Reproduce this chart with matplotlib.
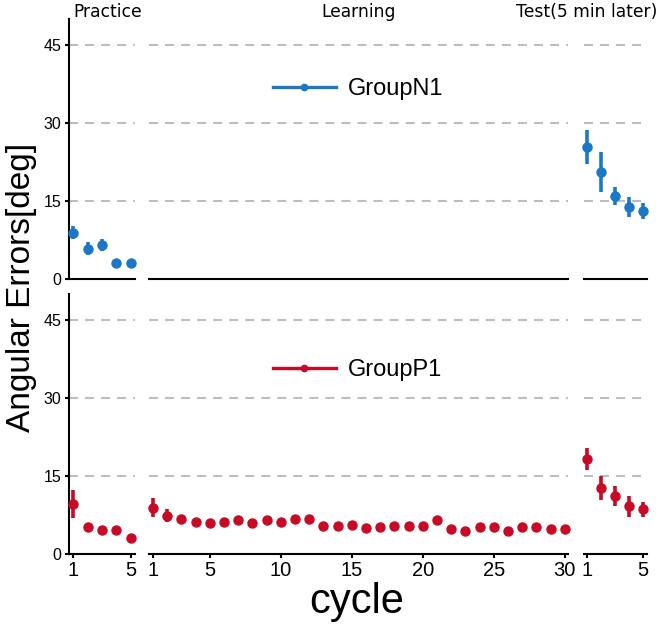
import matplotlib
matplotlib.use('Agg')
import matplotlib.pyplot as plt
from matplotlib.lines import Line2D

# ---------------- data ----------------
practice_cycles = [1, 2, 3, 4, 5]
learning_cycles = list(range(1, 31))
test_cycles = [1, 2, 3, 4, 5]

n1_practice_mean = [9.0, 5.9, 6.6, 3.1, 3.1]
n1_practice_err = [1.2, 1.2, 1.1, 0.5, 0.5]
n1_test_mean = [25.5, 20.6, 16.0, 13.9, 13.1]
n1_test_err = [3.3, 3.9, 1.7, 2.0, 1.5]

p1_practice_mean = [9.7, 5.2, 4.7, 4.6, 3.1]
p1_practice_err = [2.7, 0.7, 0.4, 0.8, 0.4]
p1_learning_mean = [8.9, 7.4, 6.8, 6.1, 5.9, 6.1, 6.5, 6.0, 6.5, 6.1,
                    6.8, 6.7, 5.4, 5.3, 5.5, 5.0, 5.1, 5.4, 5.4, 5.4,
                    6.5, 4.9, 4.5, 5.1, 5.2, 4.4, 5.1, 5.1, 4.8, 4.8]
p1_learning_err = [1.8, 1.3, 0.5, 0.4, 0.4, 0.4, 0.4, 0.4, 0.4, 0.4,
                   0.4, 0.4, 0.4, 0.4, 0.4, 0.4, 0.4, 0.4, 0.4, 0.4,
                   0.5, 0.4, 0.4, 0.4, 0.4, 0.4, 0.4, 0.4, 0.4, 0.4]
p1_test_mean = [18.2, 12.7, 11.2, 9.2, 8.6]
p1_test_err = [2.1, 2.3, 1.9, 2.0, 1.4]

group_names = ['GroupN1', 'GroupP1']
phase_titles = ['Practice', 'Learning', 'Test(5 min later)']
y_ticks = [0, 15, 30, 45]
grid_levels = [15, 30, 45]
practice_xticks = [1, 5]
learning_xticks = [1, 5, 10, 15, 20, 25, 30]
test_xticks = [1, 5]

# ---------------- style ----------------
BLUE = '#1b78c6'
RED = '#c70a26'
TICKFONT = 'Liberation Sans'
TITLEFONT = 'DejaVu Sans'

W, H = 661, 626
fig = plt.figure(figsize=(W / 100, H / 100), dpi=100)


def px_axes(x0, x1, y_top, y_bot):
    return fig.add_axes([x0 / W, 1 - y_bot / H, (x1 - x0) / W, (y_bot - y_top) / H])


cols = [(69.4, 134.6), (149.4, 568.4), (583.5, 646.5)]
rows = [(19.3, 279.3), (294.0, 554.0)]
xlims = [(0.75, 5.25), (0.75, 30.25), (0.75, 5.25)]
xticks_list = [practice_xticks, learning_xticks, test_xticks]

data = [
    [(practice_cycles, n1_practice_mean, n1_practice_err), None,
     (test_cycles, n1_test_mean, n1_test_err)],
    [(practice_cycles, p1_practice_mean, p1_practice_err),
     (learning_cycles, p1_learning_mean, p1_learning_err),
     (test_cycles, p1_test_mean, p1_test_err)],
]
colors = [BLUE, RED]
legend_y = [0.732, 0.708]

for r, (yt, yb) in enumerate(rows):
    for c, (x0, x1) in enumerate(cols):
        ax = px_axes(x0, x1, yt, yb)
        ax.set_xlim(*xlims[c])
        ax.set_ylim(0, 50)
        ax.patch.set_alpha(0)
        for s in ['top', 'right']:
            ax.spines[s].set_visible(False)
        ax.spines['bottom'].set_linewidth(1.5)
        ax.spines['left'].set_linewidth(1.5)
        if c != 0:
            ax.spines['left'].set_visible(False)
            ax.set_yticks([])
        else:
            ax.set_yticks(y_ticks)
            ax.tick_params(axis='y', length=3, width=1.5, pad=3, labelsize=11.5)
            for lab in ax.get_yticklabels():
                lab.set_fontfamily(TICKFONT)
        if r == 0:
            ax.set_xticks([])
        else:
            ax.set_xticks(xticks_list[c])
            ax.tick_params(axis='x', length=3, width=1.5, pad=2, labelsize=14.5)
            for lab in ax.get_xticklabels():
                lab.set_fontfamily(TICKFONT)
        for g in grid_levels:
            ax.axhline(g, color='#bdbdbd', lw=1.5, linestyle=(0, (4.3, 3.4)), zorder=0)
        d = data[r][c]
        if d is not None:
            x, m, e = d
            ax.errorbar(x, m, yerr=e, fmt='o', color=colors[r], ms=6.5,
                        elinewidth=2.6, capsize=0, clip_on=False, zorder=3)
        if c == 1:
            h = Line2D([], [], color=colors[r], lw=2.4, marker='o', ms=4.5)
            ax.legend([h], [group_names[r]], loc='center left',
                      bbox_to_anchor=(0.295, legend_y[r]), frameon=False,
                      borderpad=0, borderaxespad=0, handlelength=2.66,
                      handletextpad=0.5,
                      prop={'family': TICKFONT, 'size': 17})

# phase titles
fig.text(73 / W, 1 - 17 / H, phase_titles[0], ha='left', va='baseline',
         fontsize=12.3, family=TITLEFONT)
fig.text(359 / W, 1 - 17 / H, phase_titles[1], ha='center', va='baseline',
         fontsize=12.3, family=TITLEFONT)
fig.text(657 / W, 1 - 17 / H, phase_titles[2], ha='right', va='baseline',
         fontsize=12.3, family=TITLEFONT)

fig.text(22 / W, 1 - 287 / H, 'Angular Errors[deg]', rotation=90,
         ha='center', va='center', fontsize=24, family=TICKFONT)
fig.text(357 / W, 1 - 602 / H, 'cycle', ha='center', va='center',
         fontsize=30, family=TICKFONT)

fig.savefig('out.png', dpi=100)
